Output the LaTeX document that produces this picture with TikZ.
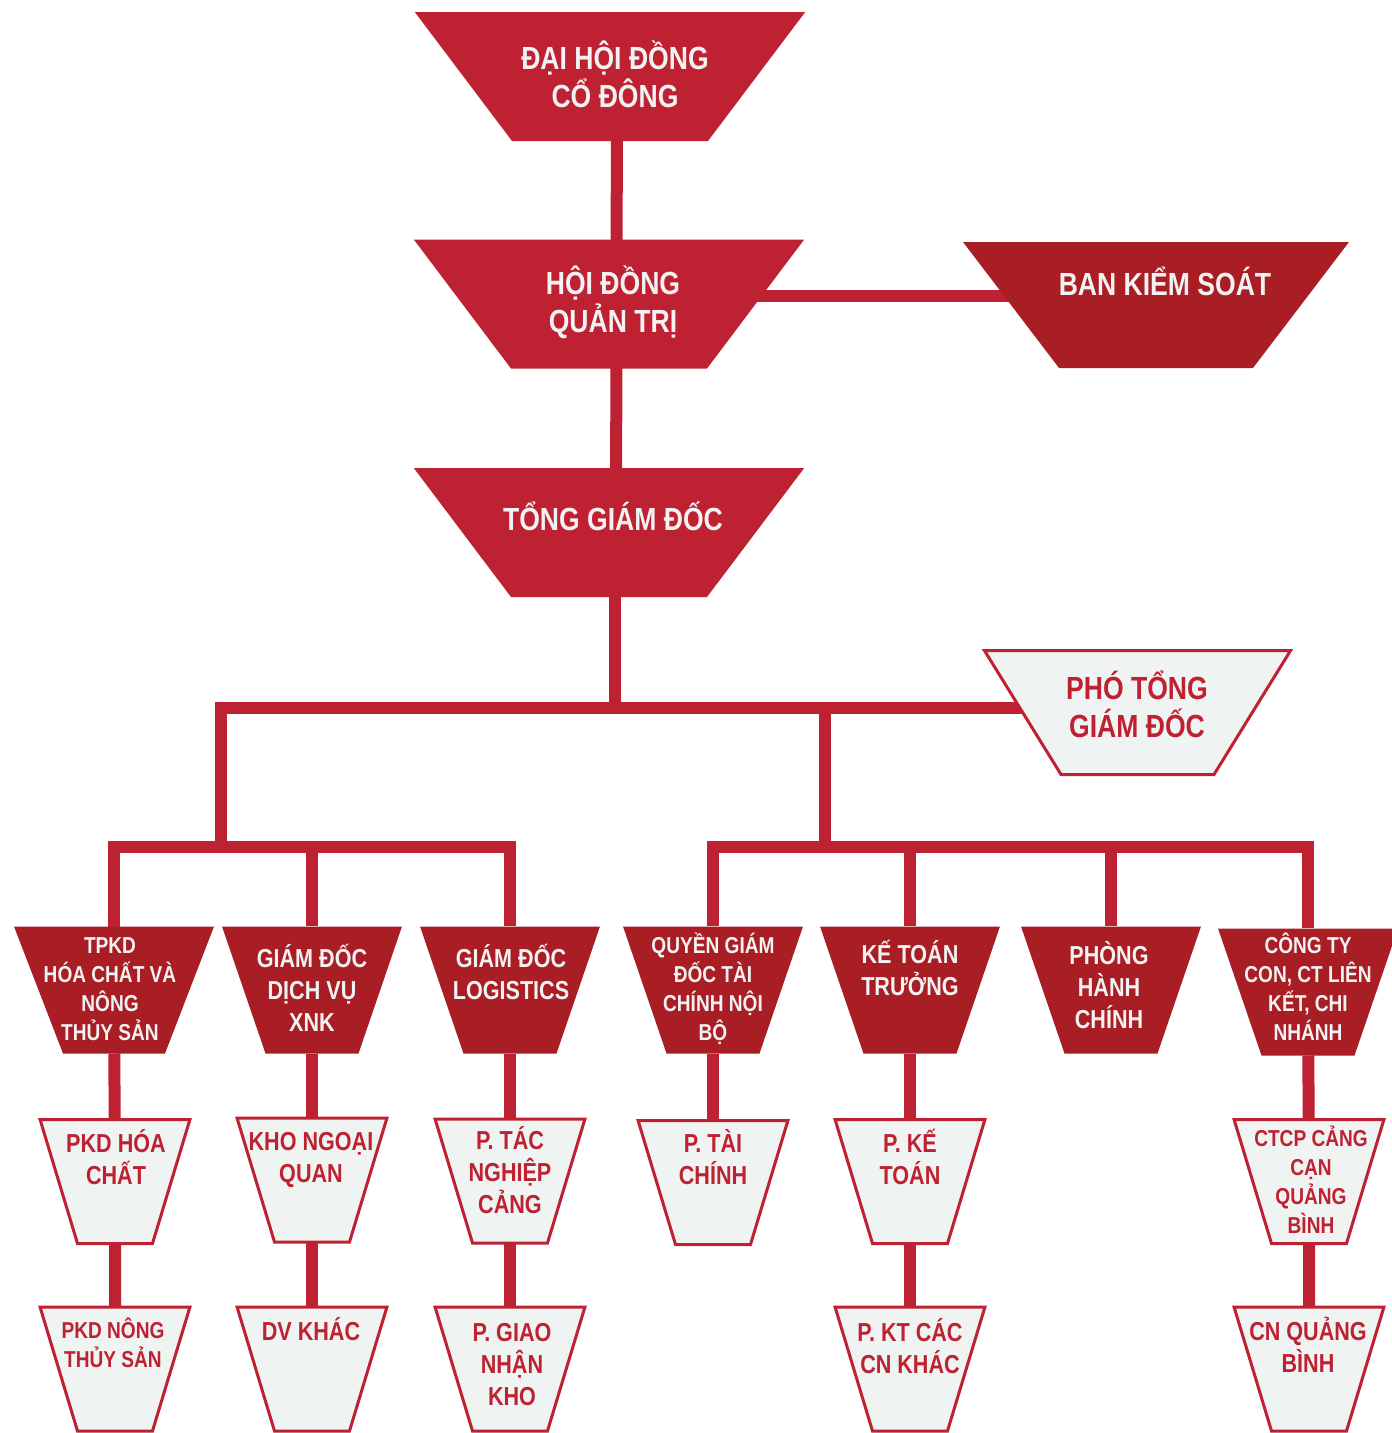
\documentclass[tikz,border=0pt]{standalone}
\usepackage{fontspec}
\setmainfont{Liberation Sans}[FakeStretch=0.83]
\usetikzlibrary{shapes.geometric,positioning}
\definecolor{myred}{RGB}{190,33,50}
\definecolor{mydark}{RGB}{169,30,37}
\definecolor{mylight}{RGB}{239,243,241}
\definecolor{mywhite}{RGB}{242,242,242}
\pgfdeclarelayer{bg}
\pgfsetlayers{bg,main}

\tikzset{
    box/.style={trapezium, shape border rotate=180, outer sep=0pt},
    topbox/.style={box, fill=myred, inner xsep=98pt, inner ysep=64.5pt,
        trapezium left angle=53, trapezium right angle=53},
    sidebox/.style={box, fill=mydark, inner xsep=97pt, inner ysep=63pt,
        trapezium left angle=52.7, trapezium right angle=52.7},
    vicebox/.style={box, fill=mylight, draw=myred, line width=3pt,
        inner xsep=76.5pt, inner ysep=62pt,
        trapezium left angle=58.3, trapezium right angle=58.3},
    unitbox/.style={box, fill=mydark, inner xsep=46.5pt, inner ysep=63.5pt,
        trapezium left angle=71.1, trapezium right angle=71.1},
    deptbox/.style={box, fill=mylight, draw=myred, line width=3pt,
        inner xsep=37.5pt, inner ysep=62pt,
        trapezium left angle=73.2, trapezium right angle=73.2},
    link/.style={draw=myred, line width=12pt},
    txt/.style={align=center, inner sep=0pt, anchor=base, font=\bfseries},
    bigtxt/.style={txt, text=mywhite, font=\bfseries\fontsize{32}{38}\selectfont},
    unittxt/.style={txt, text=mywhite, font=\bfseries\fontsize{26}{32}\selectfont},
    smalltxt/.style={txt, text=mywhite, font=\bfseries\fontsize{23}{28.7}\selectfont},
    depttxt/.style={txt, text=myred, font=\bfseries\fontsize{26}{32}\selectfont},
    deptsmall/.style={txt, text=myred, font=\bfseries\fontsize{23}{29}\selectfont},
}

\begin{document}
\begin{tikzpicture}[x=1pt, y=-1pt]
    \useasboundingbox (0,0) rectangle (1392,1433);

    % board level
    \node[topbox] (dhdcd) at (610,76.5) {};
    \node[topbox] (hdqt) at (609,304) {};
    \node[sidebox] (bks) at (1156,305) {};
    \node[topbox] (tgd) at (609,532.5) {};
    \node[vicebox] (ptgd) at (1137.5,712.5) {};

    \node[bigtxt] (dhdcdT) at (615,107.5) {ĐẠI HỘI ĐỒNG\\CỔ ĐÔNG};
    \node[bigtxt] (hdqtT) at (613,332.5) {HỘI ĐỒNG\\QUẢN TRỊ};
    \node[bigtxt] (bksT) at (1165,295.5) {BAN KIỂM SOÁT};
    \node[bigtxt] (tgdT) at (613,530.5) {TỔNG GIÁM ĐỐC};
    \node[bigtxt, text=myred] (ptgdT) at (1137,737.5) {PHÓ TỔNG\\GIÁM ĐỐC};

    % units
    \node[unitbox, inner xsep=51pt, trapezium left angle=68.9,
        trapezium right angle=68.9] (tpkd) at (114,990) {};
    \node[unitbox] (gddv) at (312,990) {};
    \node[unitbox] (gdlog) at (510,990) {};
    \node[unitbox] (qgd) at (713,990) {};
    \node[unitbox] (ktt) at (910,990) {};
    \node[unitbox] (phc) at (1111,990) {};
    \node[unitbox] (cty) at (1308,992) {};

    \node[smalltxt] (tpkdT) at (110,1040) {TPKD\\HÓA CHẤT VÀ\\NÔNG\\THỦY SẢN};
    \node[unittxt] (gddvT) at (312,1031) {GIÁM ĐỐC\\DỊCH VỤ\\XNK};
    \node[unittxt] (gdlogT) at (511,999) {GIÁM ĐỐC\\LOGISTICS};
    \node[smalltxt] (qgdT) at (713,1040) {QUYỀN GIÁM\\ĐỐC TÀI\\CHÍNH NỘI\\BỘ};
    \node[unittxt] (kttT) at (910,995) {KẾ TOÁN\\TRƯỞNG};
    \node[unittxt] (phcT) at (1109,1028) {PHÒNG\\HÀNH\\CHÍNH};
    \node[smalltxt] (ctyT) at (1308,1040) {CÔNG TY\\CON, CT LIÊN\\KẾT, CHI\\NHÁNH};

    % departments
    \node[deptbox] (pkdhc) at (115,1181.5) {};
    \node[deptbox] (khonq) at (312,1180) {};
    \node[deptbox] (ptncang) at (510,1181) {};
    \node[deptbox] (ptc) at (713,1182.5) {};
    \node[deptbox] (pkt) at (910,1181.5) {};
    \node[deptbox] (ctcp) at (1309,1181.5) {};
    \node[deptbox] (pkdnts) at (115,1369) {};
    \node[deptbox] (dvkhac) at (312,1369) {};
    \node[deptbox] (pgnkho) at (510,1369) {};
    \node[deptbox] (pktcn) at (910,1369) {};
    \node[deptbox] (cnqb) at (1309,1369) {};

    \node[depttxt] (pkdhcT) at (116,1184) {PKD HÓA\\CHẤT};
    \node[depttxt] (khonqT) at (311,1182) {KHO NGOẠI\\QUAN};
    \node[depttxt] (ptncangT) at (510,1213) {P. TÁC\\NGHIỆP\\CẢNG};
    \node[depttxt] (ptcT) at (713,1184) {P. TÀI\\CHÍNH};
    \node[depttxt] (pktT) at (910,1184) {P. KẾ\\TOÁN};
    \node[deptsmall] (ctcpT) at (1311,1233) {CTCP CẢNG\\CẠN\\QUẢNG\\BÌNH};
    \node[deptsmall] (pkdntsT) at (113,1367) {PKD NÔNG\\THỦY SẢN};
    \node[depttxt] (dvkhacT) at (311,1340) {DV KHÁC};
    \node[depttxt] (pgnkhoT) at (512,1405) {P. GIAO\\NHẬN\\KHO};
    \node[depttxt] (pktcnT) at (910,1373) {P. KT CÁC\\CN KHÁC};
    \node[depttxt] (cnqbT) at (1308,1372) {CN QUẢNG\\BÌNH};

    % connectors
    \coordinate (busL) at (221,708);
    \coordinate (busR) at (825,708);
    \coordinate (grpL) at (221,847);
    \coordinate (grpR) at (825,847);
    \begin{pgfonlayer}{bg}
        \draw[link] ([xshift=7pt]dhdcd.center) -- ([xshift=7pt]tgd.center);
        \draw[link] ([yshift=8pt]hdqt.center) -- ([yshift=8pt]hdqt.center -| bks);
        \draw[link] ([xshift=6pt]tgd.center) -- ([xshift=6pt]tgd.center |- busL);
        \draw[link] (grpL) -- (busL) -- (busL -| ptgd);
        \draw[link] (busR) -- (grpR);
        \draw[link] (tpkd) |- (grpL) -| (gdlog);
        \draw[link] (gddv) -- (gddv |- grpL);
        \draw[link] (qgd) |- (grpR) -| (cty);
        \draw[link] (ktt) -- (ktt |- grpR);
        \draw[link] (phc) -- (phc |- grpR);
        \draw[link] (tpkd) -- (pkdhc) -- (pkdnts);
        \draw[link] (gddv) -- (khonq) -- (dvkhac);
        \draw[link] (gdlog) -- (ptncang) -- (pgnkho);
        \draw[link] (qgd) -- (ptc);
        \draw[link] (ktt) -- (pkt) -- (pktcn);
        \draw[link] (cty) -- (ctcp) -- (cnqb);
    \end{pgfonlayer}
\end{tikzpicture}
\end{document}
